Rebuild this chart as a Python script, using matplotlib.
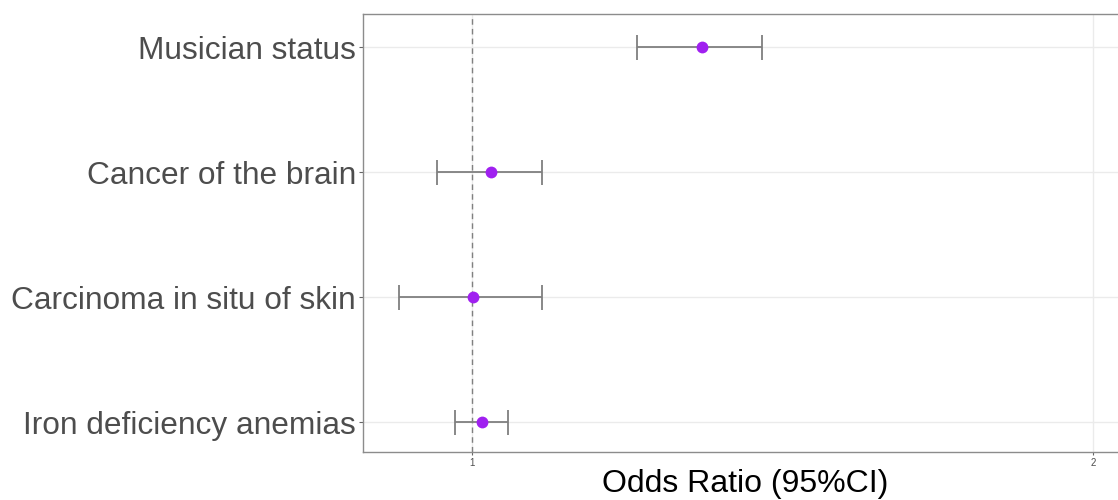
import numpy as np
import matplotlib
matplotlib.use("Agg")
import matplotlib.pyplot as plt

plt.rcParams['font.family'] = ['Liberation Sans', 'DejaVu Sans']

# forest plot data, bottom to top
labels = ['Iron deficiency anemias', 'Carcinoma in situ of skin',
          'Cancer of the brain', 'Musician status']
odds = [1.016, 1.002, 1.031, 1.370]
ci_low = [0.973, 0.882, 0.944, 1.266]
ci_high = [1.058, 1.113, 1.113, 1.467]
xticks = [1, 2]

fig = plt.figure(figsize=(11.18, 5), dpi=100, facecolor='white')
ax = fig.add_axes([363/1118, 48/500, (1127-363)/1118, 438/500])

ypos = np.arange(1, len(labels) + 1)
odds = np.array(odds)
err = np.vstack([odds - np.array(ci_low), np.array(ci_high) - odds])

# grid
for y in ypos:
    ax.axhline(y, color='#ebebeb', lw=1, zorder=0)
for x in xticks:
    ax.axvline(x, color='#ebebeb', lw=1, zorder=0)
ax.axvline(1, color='#808080', lw=1, ls=(0, (4, 3)), zorder=1)

ax.errorbar(odds, ypos, xerr=err, fmt='none', ecolor='#7f7f7f',
            elinewidth=1.3, capsize=9, capthick=1.3, zorder=2)
ax.plot(odds, ypos, 'o', color='#a020f0', markersize=8.5, zorder=3,
        markeredgewidth=0)

ax.set_xlim(0.8245, 2.0548)
ax.set_ylim(0.76, 4.265)
ax.set_yticks(ypos)
ax.set_yticklabels(labels, fontsize=22.8, color='#4d4d4d')
ax.set_xticks(xticks)
ax.set_xticklabels([str(x) for x in xticks], fontsize=7, color='#4d4d4d')
ax.tick_params(axis='y', length=3, width=0.8, color='#666666', pad=2)
ax.tick_params(axis='x', length=2, width=0.8, color='#666666', pad=2)
ax.set_xlabel('Odds Ratio (95%CI)', fontsize=23, color='black', labelpad=1)

for s in ['left', 'top', 'bottom']:
    ax.spines[s].set_color('#8c8c8c')
    ax.spines[s].set_linewidth(1)
ax.spines['right'].set_visible(False)

fig.savefig('out.png', dpi=100, facecolor='white')
